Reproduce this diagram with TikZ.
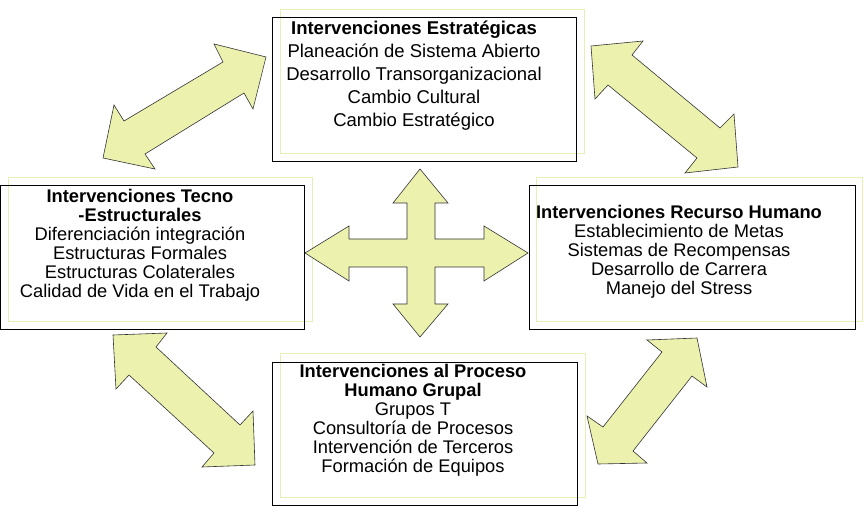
\documentclass[tikz,border=0pt]{standalone}
\usepackage{fontspec}
\setmainfont{Liberation Sans}
\definecolor{arrfill}{RGB}{236,241,174}
\definecolor{yframe}{RGB}{232,238,180}
\begin{document}
\begin{tikzpicture}[x=1pt,y=-1pt,
  box/.style={draw=black,line width=0.9pt},
  ybox/.style={draw=yframe,line width=0.8pt},
  arr/.style={draw=black!80,fill=arrfill,line width=0.6pt,line join=miter},
  txt/.style={align=center,inner sep=0pt,text=black}]
\useasboundingbox (0,0) rectangle (864,526);
% yellow offset frames
\draw[ybox] (280,9) rectangle (584,153);
\draw[ybox] (8,177) rectangle (312,321);
\draw[ybox] (536,177) rectangle (862,321);
\draw[ybox] (280,353) rectangle (585,497);
% arrows
\filldraw[arr] (214,44)--(266,57)--(253,109)--(244,93)--(145,154)--(155,169)--(103,158)--(114,105)--(124,121)--(223,62)--cycle;
\filldraw[arr] (591,46)--(643,41)--(632,55)--(720,128)--(734,114)--(738,167)--(685,173)--(697,158)--(608,85)--(595,99)--cycle;
\filldraw[arr] (113,335)--(167,333)--(156,347)--(240,425)--(253,411)--(255,465)--(202,467)--(214,453)--(129,375)--(116,389)--cycle;
\filldraw[arr] (647,340)--(697,338)--(707,387)--(692,376)--(633,451)--(647,463)--(598,464)--(587,416)--(603,427)--(662,352)--cycle;
% cross
\filldraw[arr] (305,253)--(349,226)--(349,239)--(407,239)--(407,203)--(393,203)--(420,169)--(448,203)--(435,203)--(435,239)--(484,239)--(484,226)--(528,253)--(484,281)--(484,267)--(435,267)--(435,304)--(448,304)--(420,337)--(393,304)--(407,304)--(407,267)--(349,267)--(349,281)--cycle;
% boxes
\node[box,minimum width=304pt,minimum height=144pt,inner sep=0pt] (top) at (424,89) {};
\node[box,minimum width=304pt,minimum height=144pt,inner sep=0pt] (left) at (152,257) {};
\node[box,minimum width=326pt,minimum height=144pt,inner sep=0pt] (right) at (692,257) {};
\node[box,minimum width=305pt,minimum height=143pt,inner sep=0pt] (bottom) at (424.5,433.5) {};
% texts
\node[txt,font=\fontsize{18.5}{23}\selectfont,anchor=north] (ttop) at (414,21) {\textbf{Intervenciones Estratégicas}\\Planeación de Sistema Abierto\\Desarrollo Transorganizacional\\Cambio Cultural\\Cambio Estratégico};
\node[txt,font=\fontsize{18.3}{19}\selectfont,anchor=north] (tleft) at (140,189) {\textbf{Intervenciones Tecno}\\\textbf{-Estructurales}\\Diferenciación integración\\Estructuras Formales\\Estructuras Colaterales\\Calidad de Vida en el Trabajo};
\node[txt,font=\fontsize{18.3}{19}\selectfont,anchor=north] (tright) at (679,205) {\textbf{Intervenciones Recurso Humano}\\Establecimiento de Metas\\Sistemas de Recompensas\\Desarrollo de Carrera\\Manejo del Stress};
\node[txt,font=\fontsize{18.3}{19}\selectfont,anchor=north] (tbottom) at (413,364) {\textbf{Intervenciones al Proceso}\\\textbf{Humano Grupal}\\Grupos T\\Consultoría de Procesos\\Intervención de Terceros\\Formación de Equipos};
\end{tikzpicture}
\end{document}
